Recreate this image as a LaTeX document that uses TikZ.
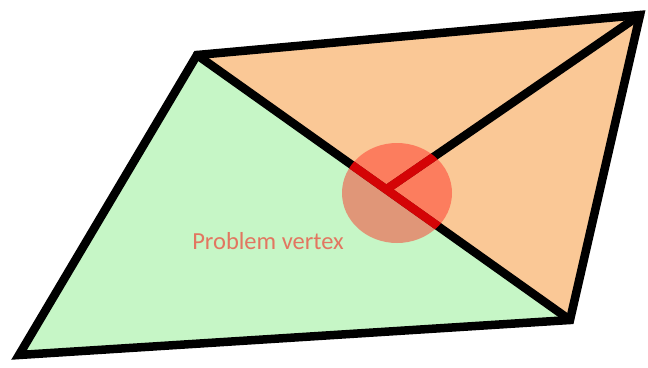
\documentclass[tikz,border=0pt]{standalone}
\usepackage{fontspec}
\setmainfont{Carlito}
\definecolor{lgreen}{RGB}{198,246,198}
\definecolor{lorange}{RGB}{250,200,150}
\definecolor{hl}{RGB}{255,37,30}
\definecolor{hlline}{RGB}{212,4,6}
\definecolor{lbl}{RGB}{226,118,96}
\tikzset{edge/.style={line width=8.5pt, line join=miter, line cap=round}}
\begin{document}
\begin{tikzpicture}[x=1pt,y=-1pt]
\useasboundingbox (0,0) rectangle (648,367);
\coordinate (A) at (197,55);
\coordinate (B) at (640,15);
\coordinate (C) at (570,320);
\coordinate (D) at (19,355);
\coordinate (P) at (387,189);
\fill[lgreen] (A) -- (C) -- (D) -- cycle;
\fill[lorange] (A) -- (B) -- (C) -- cycle;
\draw[edge] (A) -- (B) -- (C) -- (D) -- cycle;
\draw[edge] (A) -- (C);
\draw[edge] (B) -- (P);
\node[text=lbl, font=\fontsize{24.5}{28}\selectfont, inner sep=0pt] (lab) at (268,241) {Problem vertex};
\fill[hl, opacity=0.46] (397,193) ellipse (55 and 50);
\begin{scope}
\clip (397,193) ellipse (55 and 50);
\draw[edge, hlline] (A) -- (C);
\draw[edge, hlline] (B) -- (P);
\end{scope}
\end{tikzpicture}
\end{document}
